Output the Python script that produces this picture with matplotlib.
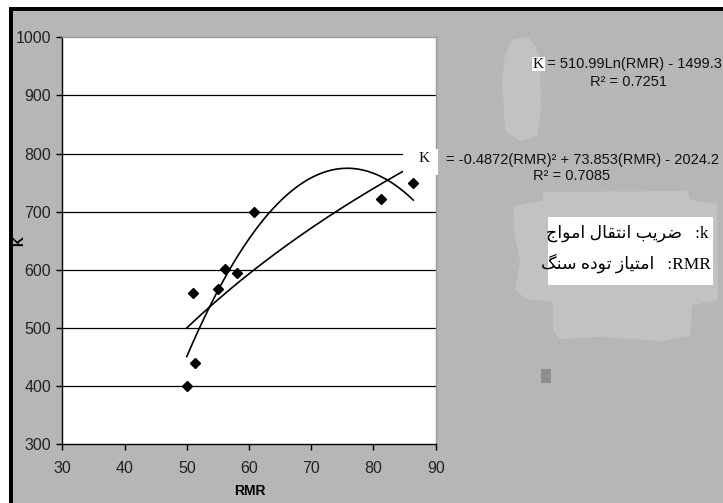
import numpy as np
import matplotlib
matplotlib.use('Agg')
import matplotlib.pyplot as plt
from matplotlib.patches import Rectangle, Polygon

# measured points
rmr = [50.0, 51.0, 51.3, 55.0, 56.1, 58.1, 60.8, 81.2, 86.4]
k_vals = [400, 560, 440, 567, 601, 595, 699, 721, 750]

# trendline coefficients shown on the chart
log_coef = [510.99, -1499.3]           # a*ln(x) + b
quad_coef = [-0.4872, 73.853, -2024.2]  # a*x^2 + b*x + c

x_ticks = [30, 40, 50, 60, 70, 80, 90]
y_ticks = [300, 400, 500, 600, 700, 800, 900, 1000]

eq_log = 'K'
eq_log_rest = ' = 510.99Ln(RMR) - 1499.3'
r2_log = 'R\u00b2 = 0.7251'
eq_quad_rest = '= -0.4872(RMR)\u00b2 + 73.853(RMR) - 2024.2'
r2_quad = 'R\u00b2 = 0.7085'
fa_k = 'ضریب انتقال امواج'
fa_rmr = 'امتیاز توده سنگ'

W, H = 723, 503

# matplotlib does no arabic shaping, so pick presentation forms by hand
FORMS = {  # isolated, final, initial, medial
    'ا': ('\uFE8D', '\uFE8E', None, None),
    'ب': ('\uFE8F', '\uFE90', '\uFE91', '\uFE92'),
    'ت': ('\uFE95', '\uFE96', '\uFE97', '\uFE98'),
    'ج': ('\uFE9D', '\uFE9E', '\uFE9F', '\uFEA0'),
    'د': ('\uFEA9', '\uFEAA', None, None),
    'ر': ('\uFEAD', '\uFEAE', None, None),
    'ز': ('\uFEAF', '\uFEB0', None, None),
    'س': ('\uFEB1', '\uFEB2', '\uFEB3', '\uFEB4'),
    'ض': ('\uFEBD', '\uFEBE', '\uFEBF', '\uFEC0'),
    'ق': ('\uFED5', '\uFED6', '\uFED7', '\uFED8'),
    'ل': ('\uFEDD', '\uFEDE', '\uFEDF', '\uFEE0'),
    'م': ('\uFEE1', '\uFEE2', '\uFEE3', '\uFEE4'),
    'ن': ('\uFEE5', '\uFEE6', '\uFEE7', '\uFEE8'),
    'ه': ('\uFEE9', '\uFEEA', '\uFEEB', '\uFEEC'),
    'و': ('\uFEED', '\uFEEE', None, None),
    'ی': ('\uFBFC', '\uFBFD', '\uFBFE', '\uFBFF'),
    'گ': ('\uFB92', '\uFB93', '\uFB94', '\uFB95'),
}


def shape(s):
    out = []
    for i, ch in enumerate(s):
        if ch not in FORMS:
            out.append(ch)
            continue
        prev = s[i - 1] if i > 0 else None
        nxt = s[i + 1] if i + 1 < len(s) else None
        jp = prev in FORMS and FORMS[prev][2] is not None
        jn = nxt in FORMS and FORMS[ch][2] is not None
        iso, fin, ini, med = FORMS[ch]
        if jp and jn:
            out.append(med)
        elif jp:
            out.append(fin)
        elif jn:
            out.append(ini)
        else:
            out.append(iso)
    return ''.join(out)[::-1]


def fx(px):
    return px / W


def fy(py):
    return 1 - py / H


def frect(x0, y0, x1, y1, **kw):
    return Rectangle((fx(x0), fy(y1)), fx(x1) - fx(x0), fy(y0) - fy(y1),
                     transform=fig.transFigure, **kw)


fig = plt.figure(figsize=(W / 100, H / 100), dpi=100, facecolor='white')

# grey chart area with black frame on top / left
fig.add_artist(frect(9, 7, W + 2, H + 2, facecolor='#b6b6b6', edgecolor='none', zorder=-5))
fig.add_artist(frect(9, 7, W + 2, 11, facecolor='black', edgecolor='none', zorder=-4))
fig.add_artist(frect(9, 7, 13, H + 2, facecolor='black', edgecolor='none', zorder=-4))

# lighter smudges in the background
blob1 = [(512, 40), (528, 37), (536, 47), (540, 62), (541, 110), (537, 136),
         (520, 141), (505, 131), (502, 82), (505, 55)]
blob2 = [(543, 192), (688, 191), (690, 200), (717, 204), (718, 300), (692, 305),
         (690, 336), (660, 341), (600, 337), (560, 339), (553, 330), (553, 302),
         (526, 299), (515, 290), (520, 262), (514, 232), (513, 206), (543, 201)]
for b in (blob1, blob2):
    fig.add_artist(Polygon([(fx(a), fy(c)) for a, c in b], closed=True,
                           transform=fig.transFigure, facecolor='#c2c2c2',
                           edgecolor='none', zorder=-3))
fig.add_artist(frect(541, 369, 551, 383, facecolor='#8e8e8e', edgecolor='none', zorder=-3))

ax = fig.add_axes([fx(62.3), fy(444), fx(435.7) - fx(62.3), fy(37.3) - fy(444)])
ax.set_facecolor('white')
ax.set_xlim(x_ticks[0], x_ticks[-1])
ax.set_ylim(y_ticks[0], y_ticks[-1])
ax.set_xticks(x_ticks)
ax.set_yticks(y_ticks)
for y in y_ticks[1:-1]:
    ax.axhline(y, color='black', lw=0.9, zorder=1)

for side in ('left', 'bottom'):
    ax.spines[side].set_color('black')
    ax.spines[side].set_linewidth(1.0)
for side in ('top', 'right'):
    ax.spines[side].set_color('#9a9a9a')
    ax.spines[side].set_linewidth(1.0)

ax.tick_params(direction='out', length=4, width=1, color='black',
               labelsize=11.5, labelcolor='#222222')
ax.tick_params(axis='x', pad=8)
ax.tick_params(axis='y', pad=4)
for lab in ax.get_xticklabels() + ax.get_yticklabels():
    lab.set_family('Liberation Sans')

ax.set_xlabel('RMR', fontsize=10, fontweight='bold', family='Liberation Sans')
ax.set_ylabel('K', fontsize=10, fontweight='bold', family='Liberation Sans')
ax.xaxis.set_label_coords(0.503, -0.098)
ax.yaxis.set_label_coords(-0.096, 0.5)

xs = np.linspace(min(rmr), max(rmr), 200)
ax.plot(xs, log_coef[0] * np.log(xs) + log_coef[1], color='black', lw=1.2, zorder=3)
ax.plot(xs, np.polyval(quad_coef, xs), color='black', lw=1.2, zorder=3)
ax.plot(rmr, k_vals, linestyle='none', marker='D', markersize=4.6,
        color='black', zorder=4)

sans = 'Liberation Sans'
serif = ['Liberation Serif', 'DejaVu Sans']

# log trendline label
fig.text(fx(533), fy(64), eq_log, family='Liberation Serif', fontsize=11,
         va='center', ha='left', color='#111111',
         bbox=dict(facecolor='white', edgecolor='none', pad=0.5))
fig.text(fx(543), fy(64), eq_log_rest, family=sans, fontsize=10.5,
         va='center', ha='left', color='#111111')
fig.text(fx(629), fy(82), r2_log, family=sans, fontsize=10.5,
         va='center', ha='center', color='#111111')

# quadratic trendline label (white box over plot edge)
fig.add_artist(frect(403, 149, 438, 175, facecolor='white', edgecolor='none', zorder=2))
fig.text(fx(419), fy(158), 'K', family='Liberation Serif', fontsize=11,
         va='center', ha='left', color='#111111', zorder=3)
fig.text(fx(446), fy(160), eq_quad_rest, family=sans, fontsize=10.5,
         va='center', ha='left', color='#111111')
fig.text(fx(572), fy(176), r2_quad, family=sans, fontsize=10.5,
         va='center', ha='center', color='#111111')

# persian legend box
fig.add_artist(frect(548, 217, 713, 285, facecolor='white', edgecolor='none', zorder=2))
fig.text(fx(709), fy(233), shape(fa_k) + '   :k', family=serif, fontsize=12.5,
         va='center', ha='right', color='black', zorder=3)
fig.text(fx(711), fy(263), shape(fa_rmr) + '   :RMR', family=serif, fontsize=12.5,
         va='center', ha='right', color='black', zorder=3)

fig.savefig('out.png', dpi=100, facecolor=fig.get_facecolor())
